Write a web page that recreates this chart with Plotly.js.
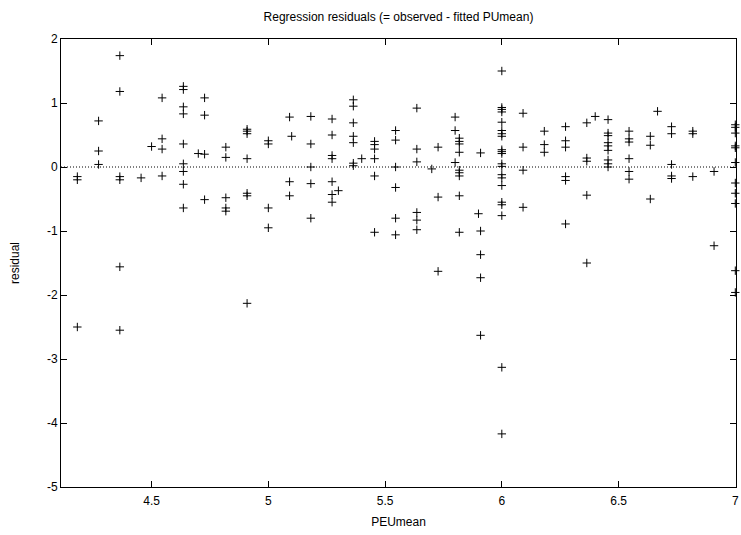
<!DOCTYPE html>
<html>
<head>
<meta charset="utf-8">
<script src="https://cdn.plot.ly/plotly-3.0.1.min.js"></script>
<style>html,body{margin:0;padding:0;background:#fff;}#chart{width:741px;height:535px;}</style>
</head>
<body>
<div id="chart"></div>
<script>
// PEUmean values (x) of each column of points
const peuColumns = [4.182, 4.273, 4.364, 4.455, 4.5, 4.545, 4.636, 4.7, 4.727, 4.818,
  4.909, 5, 5.091, 5.1, 5.182, 5.273, 5.3, 5.364, 5.4, 5.455,
  5.545, 5.636, 5.7, 5.727, 5.8, 5.818, 5.9, 5.909, 6, 6.091,
  6.182, 6.273, 6.364, 6.4, 6.455, 6.545, 6.636, 6.667, 6.727, 6.818,
  6.909, 7];

// residuals read for each column above (same order)
const residualGroups = [
  [-0.15, -0.2, -2.5],
  [0.72, 0.25, 0.04],
  [1.74, 1.18, -0.15, -0.2, -1.56, -2.55],
  [-0.17],
  [0.32],
  [1.08, 0.44, 0.28, -0.14],
  [1.26, 1.21, 0.94, 0.83, 0.36, 0.05, -0.07, -0.27, -0.64],
  [0.21],
  [1.08, 0.81, 0.2, -0.51],
  [0.31, 0.15, -0.48, -0.64, -0.69],
  [0.59, 0.56, 0.52, 0.13, -0.41, -0.45, -2.13],
  [0.41, 0.36, -0.64, -0.95],
  [0.78, -0.23, -0.45],
  [0.48],
  [0.79, 0.36, 0.0, -0.26, -0.8],
  [0.75, 0.5, 0.18, 0.13, -0.23, -0.43, -0.55],
  [-0.37],
  [1.05, 0.95, 0.69, 0.48, 0.38, 0.06, 0.02],
  [0.13],
  [0.4, 0.35, 0.28, 0.13, -0.14, -1.02],
  [0.57, 0.42, 0.0, -0.32, -0.8, -1.06],
  [0.92, 0.28, 0.08, -0.71, -0.83, -0.98],
  [-0.03],
  [0.31, -0.47, -1.63],
  [0.78, 0.57, 0.07],
  [0.45, 0.4, 0.36, 0.23, -0.05, -0.09, -0.14, -0.45, -1.02],
  [-0.73],
  [0.22, -1.0, -1.37, -1.73, -2.63],
  [1.5, 0.93, 0.9, 0.86, 0.7, 0.57, 0.52, 0.48, 0.27, 0.24, 0.21, 0.05, 0.01, -0.12, -0.17, -0.29, -0.55, -0.59, -0.76, -3.13, -4.17],
  [0.84, 0.31, -0.05, -0.63],
  [0.56, 0.35, 0.23],
  [0.63, 0.41, 0.31, -0.15, -0.21, -0.89],
  [0.69, 0.14, 0.09, -0.44, -1.5],
  [0.79],
  [0.74, 0.53, 0.49, 0.38, 0.33, 0.26, 0.11, 0.05, 0.0],
  [0.56, 0.44, 0.39, 0.13, -0.07, -0.19],
  [0.48, 0.34, -0.5],
  [0.87],
  [0.63, 0.52, 0.04, -0.14, -0.18],
  [0.56, 0.52, -0.15],
  [-0.07, -1.23],
  [0.66, 0.62, 0.53, 0.33, 0.3, 0.07, -0.25, -0.41, -0.57, -1.62, -1.96]
];

const xTicks = [4.5, 5, 5.5, 6, 6.5, 7];
const yTicks = [2, 1, 0, -1, -2, -3, -4, -5];

const xs = [], ys = [];
peuColumns.forEach((x, i) => {
  residualGroups[i].forEach(r => { xs.push(x); ys.push(r); });
});

const font = {family: 'Liberation Sans, Arial, sans-serif', size: 12, color: '#000'};

const trace = {
  x: xs, y: ys, type: 'scatter', mode: 'markers', cliponaxis: false,
  marker: {symbol: 'cross-thin-open', size: 6, color: '#000', line: {color: '#000', width: 1}},
  hoverinfo: 'x+y', showlegend: false
};

const layout = {
  width: 741, height: 535,
  margin: {l: 61, r: 5, t: 39, b: 48},
  paper_bgcolor: '#fff', plot_bgcolor: '#fff',
  font: font,
  title: {text: 'Regression residuals (= observed - fitted PUmean)', font: font,
    xref: 'paper', x: 0.5, xanchor: 'center', yref: 'container', y: 1 - 17/535, yanchor: 'middle'},
  xaxis: {
    range: [4.112, 7.003], tickmode: 'array', tickvals: xTicks, ticktext: xTicks.map(String),
    ticks: 'inside', ticklen: 6, tickcolor: '#000', showgrid: false, zeroline: false,
    showline: true, linecolor: '#000', linewidth: 1, mirror: 'ticks',
    ticklabelstandoff: 3,
    tickfont: font, title: {text: 'PEUmean', font: font, standoff: 10}
  },
  yaxis: {
    range: [-5, 2], tickmode: 'array', tickvals: yTicks, ticktext: yTicks.map(String),
    ticks: 'inside', ticklen: 6, tickcolor: '#000', showgrid: false, zeroline: false,
    showline: true, linecolor: '#000', linewidth: 1, mirror: 'ticks',
    tickfont: font, title: {text: 'residual', font: font, standoff: 24}
  },
  shapes: [{type: 'line', xref: 'paper', x0: 0, x1: 1, yref: 'y', y0: 0, y1: 0,
    line: {color: '#000', width: 1, dash: '1px,2px'}, layer: 'below'}]
};

Plotly.newPlot('chart', [trace], layout, {staticPlot: true, displayModeBar: false});
</script>
</body>
</html>
